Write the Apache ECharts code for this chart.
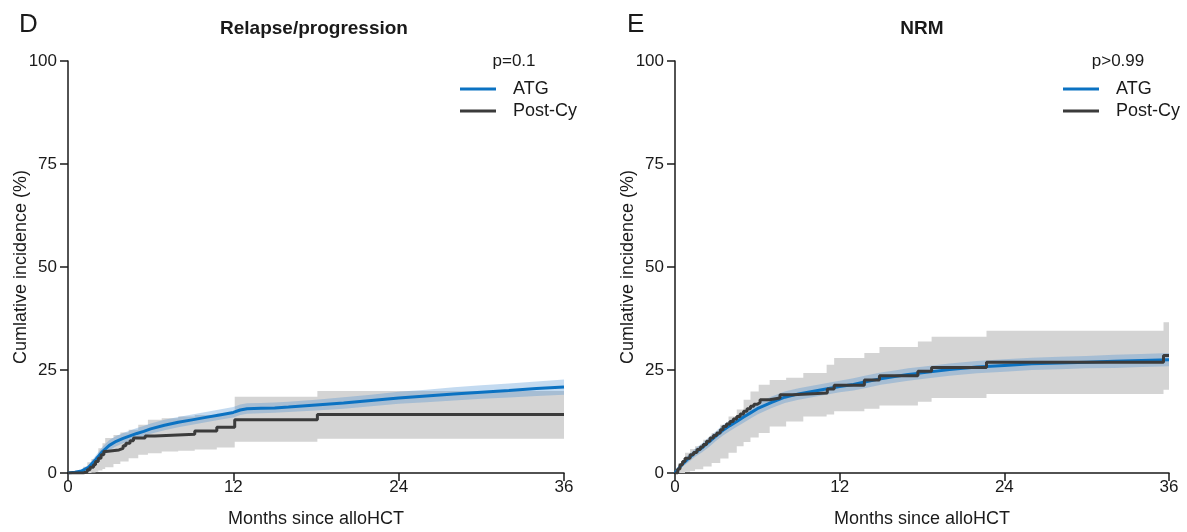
<!DOCTYPE html>
<html>
<head>
<meta charset="utf-8">
<title>Cumulative incidence</title>
<script src="https://cdn.jsdelivr.net/npm/echarts@6/dist/echarts.min.js"></script>
<style>
html, body { margin: 0; padding: 0; background: #fff; }
#chart { width: 1187px; height: 532px; }
</style>
</head>
<body>
<div id="chart"></div>
<script>
// tick values
var monthTicks = [0, 12, 24, 36];
var pctTicks = [0, 25, 50, 75, 100];
var groups = ['ATG', 'Post-Cy'];

// D - relapse/progression, ATG
var atgDTime  = [0, 0.5, 1, 1.5, 2, 2.5, 3, 3.5, 4, 4.5, 5, 5.5, 6, 7, 8, 9, 10, 11, 12, 12.5, 13, 14, 15, 16, 18, 20, 22, 24, 26, 28, 30, 32, 34, 36];
var atgDEst   = [0, 0.2, 0.5, 1.4, 3.2, 5.2, 6.7, 7.7, 8.4, 9.0, 9.6, 10.1, 10.7, 11.6, 12.3, 12.9, 13.5, 14.1, 14.7, 15.3, 15.6, 15.7, 15.8, 16.0, 16.5, 17.0, 17.6, 18.2, 18.7, 19.2, 19.6, 20.0, 20.5, 20.9];
var atgDLower = [0, 0, 0.2, 0.8, 2.2, 4.0, 5.5, 6.5, 7.2, 7.8, 8.4, 8.9, 9.5, 10.4, 11.1, 11.7, 12.3, 12.9, 13.5, 14.1, 14.4, 14.5, 14.6, 14.8, 15.2, 15.6, 16.2, 16.8, 17.2, 17.6, 18.0, 18.3, 18.7, 19.0];
var atgDUpper = [0, 0.5, 0.9, 2.0, 4.2, 6.4, 8.0, 9.0, 9.7, 10.3, 10.9, 11.4, 12.0, 12.9, 13.6, 14.2, 14.8, 15.4, 16.0, 16.6, 16.9, 17.0, 17.1, 17.3, 17.8, 18.4, 19.0, 19.7, 20.2, 20.8, 21.3, 21.7, 22.2, 22.7];

// D - relapse/progression, Post-Cy
var pcDTime = [0, 1.1, 1.4, 1.6, 1.85, 2.0, 2.2, 2.4, 2.6, 2.75, 3.7, 4.0, 4.2, 4.5, 4.75, 5.6, 6.3, 9.2, 10.8, 12.1, 18.1, 36];
var pcDEst  = [0, 0.3, 0.8, 1.4, 2.0, 2.8, 3.6, 4.4, 5.2, 5.6, 6.0, 6.6, 7.2, 7.8, 8.5, 9.0, 9.4, 10.2, 11.1, 12.9, 14.2, 14.2];
var pcDBandTime = [0, 1.1, 1.4, 1.7, 2.0, 2.2, 2.5, 2.7, 3.3, 3.8, 4.4, 5.1, 5.8, 6.8, 8.0, 9.2, 10.8, 12.1, 18.1, 36];
var pcDUpper    = [0, 1.5, 2.6, 3.4, 4.0, 6.0, 7.2, 8.5, 9.2, 9.8, 10.5, 11.7, 12.9, 13.3, 13.7, 14.1, 14.4, 18.5, 19.9, 19.9];
var pcDLower    = [0, 0, 0, 0.1, 0.3, 0.6, 1.0, 1.4, 2.2, 2.8, 3.6, 4.4, 4.8, 5.2, 5.4, 5.7, 6.2, 7.6, 8.3, 8.3];

// E - NRM, ATG
var atgETime  = [0, 0.5, 1, 1.5, 2, 2.5, 3, 3.5, 4, 4.5, 5, 5.5, 6, 7, 8, 9, 10, 11, 12, 13, 14, 15, 16, 17, 18, 20, 22, 24, 26, 28, 30, 32, 34, 36];
var atgEEst   = [0, 2.0, 3.6, 5.0, 6.2, 7.6, 9.0, 10.4, 11.5, 12.5, 13.6, 14.6, 15.6, 17.1, 18.4, 19.2, 19.8, 20.4, 21.0, 21.5, 22.2, 22.9, 23.4, 23.9, 24.3, 25.1, 25.7, 26.1, 26.5, 26.7, 26.9, 27.1, 27.3, 27.5];
var atgELower = [0, 1.4, 2.7, 4.0, 5.1, 6.4, 7.8, 9.1, 10.2, 11.2, 12.2, 13.2, 14.2, 15.7, 17.0, 17.8, 18.4, 19.0, 19.6, 20.0, 20.7, 21.4, 21.9, 22.4, 22.8, 23.6, 24.2, 24.6, 25.0, 25.2, 25.4, 25.5, 25.7, 25.9];
var atgEUpper = [0, 2.6, 4.5, 6.0, 7.3, 8.8, 10.2, 11.7, 12.8, 13.8, 15.0, 16.0, 17.0, 18.5, 19.8, 20.6, 21.2, 21.8, 22.4, 23.0, 23.7, 24.4, 24.9, 25.4, 25.8, 26.6, 27.2, 27.6, 28.0, 28.2, 28.4, 28.7, 28.9, 29.1];

// E - NRM, Post-Cy
var pcETime = [0, 0.2, 0.36, 0.55, 0.73, 1.1, 1.35, 1.6, 1.85, 2.06, 2.3, 2.55, 2.8, 3.04, 3.3, 3.5, 3.75, 4.0, 4.25, 4.5, 4.75, 5.0, 5.25, 5.5, 5.75, 6.0, 6.2, 6.9, 7.65, 8.6, 11.1, 11.6, 13.8, 14.9, 17.7, 18.7, 22.7, 35.6, 36];
var pcEEst  = [0, 1.0, 2.0, 2.8, 3.6, 4.4, 5.0, 5.7, 6.3, 6.9, 7.7, 8.5, 9.1, 9.7, 10.5, 11.3, 11.9, 12.5, 13.1, 13.7, 14.3, 15.0, 15.6, 16.2, 16.7, 17.1, 17.8, 18.2, 19.0, 19.4, 20.4, 21.3, 22.6, 23.6, 24.7, 25.6, 26.9, 28.5, 28.5];
var pcEBandTime = [0, 0.25, 0.73, 1.1, 1.46, 2.06, 2.67, 3.3, 3.9, 4.5, 5.0, 5.5, 6.1, 6.9, 8.1, 9.35, 11.05, 11.6, 13.8, 14.9, 17.7, 18.7, 22.7, 35.6, 36];
var pcEUpper    = [0, 2.4, 4.9, 5.8, 6.5, 8.1, 9.7, 11.7, 13.7, 15.4, 17.8, 19.8, 21.4, 22.6, 23.1, 24.3, 26.3, 27.9, 29.1, 30.6, 31.9, 33.1, 34.5, 36.6, 36.6];
var pcELower    = [0, 0, 0.3, 0.5, 0.9, 1.6, 2.4, 3.5, 4.9, 6.5, 7.5, 8.6, 9.7, 11.3, 12.5, 13.7, 14.2, 15.0, 15.6, 16.4, 17.3, 18.2, 19.2, 20.2, 20.2];

var FONT = '"Liberation Sans", Arial, sans-serif';
var TXT = '#1a1a1a';
var BLUE = '#0b72c2';
var DARK = '#3b3b3b';
var GREY_BAND = '#d4d4d4';
var BLUE_BAND = 'rgba(67,139,208,0.32)';

var pairs = function (t, v) {
    return t.map(function (x, i) { return [x, v[i]]; });
};

var triples = function (t, lo, up) {
    return t.map(function (x, i) { return [x, lo[i], up[i]]; });
};

// confidence band drawn as one polygon (step or straight edges)
var band = function (g, t, lo, up, color, step) {
    return {
        type: 'custom',
        xAxisIndex: g,
        yAxisIndex: g,
        silent: true,
        clip: true,
        z: 1,
        encode: {x: 0, y: [1, 2]},
        data: triples(t, lo, up),
        renderItem: function (params, api) {
            if (params.dataIndex !== 0) {
                return null;
            }
            var top = [], bottom = [];
            for (var i = 0; i < t.length; i++) {
                var next = i < t.length - 1 ? t[i + 1] : t[i];
                top.push(api.coord([t[i], up[i]]));
                bottom.push(api.coord([t[i], lo[i]]));
                if (step) {
                    top.push(api.coord([next, up[i]]));
                    bottom.push(api.coord([next, lo[i]]));
                }
            }
            return {
                type: 'polygon',
                shape: {points: top.concat(bottom.reverse())},
                style: {fill: color}
            };
        }
    };
};

var curve = function (name, g, t, v, color, step) {
    return {
        name: name,
        type: 'line',
        xAxisIndex: g,
        yAxisIndex: g,
        step: step,
        symbol: 'none',
        z: 3,
        color: color,
        lineStyle: {color: color, width: 3},
        data: pairs(t, v)
    };
};

var axisLineStyle = {color: TXT, width: 1.5};

var makeX = function (g) {
    return {
        gridIndex: g,
        type: 'value',
        min: monthTicks[0],
        max: monthTicks[monthTicks.length - 1],
        interval: monthTicks[1] - monthTicks[0],
        name: 'Months since alloHCT',
        nameLocation: 'middle',
        nameGap: 37,
        nameMoveOverlap: false,
        nameTextStyle: {fontSize: 18, color: TXT, fontFamily: FONT},
        axisLine: {show: true, onZero: false, lineStyle: axisLineStyle},
        axisTick: {show: true, length: 8, lineStyle: axisLineStyle},
        axisLabel: {fontSize: 17, color: TXT, fontFamily: FONT, margin: 6},
        splitLine: {show: false}
    };
};

var makeY = function (g) {
    return {
        gridIndex: g,
        type: 'value',
        min: pctTicks[0],
        max: pctTicks[pctTicks.length - 1],
        interval: pctTicks[1] - pctTicks[0],
        name: 'Cumlative incidence (%)',
        nameLocation: 'middle',
        nameGap: 38,
        nameMoveOverlap: false,
        nameTextStyle: {fontSize: 18, color: TXT, fontFamily: FONT},
        axisLine: {show: true, onZero: false, lineStyle: axisLineStyle},
        axisTick: {show: true, length: 8, lineStyle: axisLineStyle},
        axisLabel: {fontSize: 17, color: TXT, fontFamily: FONT, margin: 11},
        splitLine: {show: false}
    };
};

var makeLegend = function (left) {
    return {
        data: groups,
        orient: 'vertical',
        left: left,
        top: 75,
        itemWidth: 36,
        itemHeight: 3,
        itemGap: 4,
        icon: 'rect',
        selectedMode: false,
        textStyle: {fontSize: 18, color: TXT, fontFamily: FONT, padding: [0, 0, 0, 12]}
    };
};

var label = function (text, x, y, size, bold, align) {
    return {
        type: 'text',
        x: x,
        y: y,
        style: {
            text: text,
            fill: TXT,
            fontSize: size,
            fontWeight: bold ? 'bold' : 'normal',
            fontFamily: FONT,
            align: align || 'center',
            verticalAlign: 'middle'
        }
    };
};

var series = [
    band(0, pcDBandTime, pcDLower, pcDUpper, GREY_BAND, true),
    band(0, atgDTime, atgDLower, atgDUpper, BLUE_BAND, false),
    curve('ATG', 0, atgDTime, atgDEst, BLUE, false),
    curve('Post-Cy', 0, pcDTime, pcDEst, DARK, 'end'),
    band(1, pcEBandTime, pcELower, pcEUpper, GREY_BAND, true),
    band(1, atgETime, atgELower, atgEUpper, BLUE_BAND, false),
    curve('ATG', 1, atgETime, atgEEst, BLUE, false),
    curve('Post-Cy', 1, pcETime, pcEEst, DARK, 'end')
];

var chart = echarts.init(document.getElementById('chart'));
var option = {
    animation: false,
    backgroundColor: '#fff',
    textStyle: {fontFamily: FONT},
    grid: [
        {left: 68, right: 623, top: 61, bottom: 59, containLabel: false, outerBoundsMode: 'none'},
        {left: 675, right: 18, top: 61, bottom: 59, containLabel: false, outerBoundsMode: 'none'}
    ],
    xAxis: [makeX(0), makeX(1)],
    yAxis: [makeY(0), makeY(1)],
    legend: [makeLegend(455), makeLegend(1058)],
    graphic: [
        label('D', 19, 25, 26, false, 'left'),
        label('Relapse/progression', 314, 29, 19, true),
        label('p=0.1', 514, 61, 17, false),
        label('E', 627, 25, 26, false, 'left'),
        label('NRM', 922, 29, 19, true),
        label('p>0.99', 1118, 61, 17, false)
    ],
    series: series
};
chart.setOption(option);
</script>
</body>
</html>
